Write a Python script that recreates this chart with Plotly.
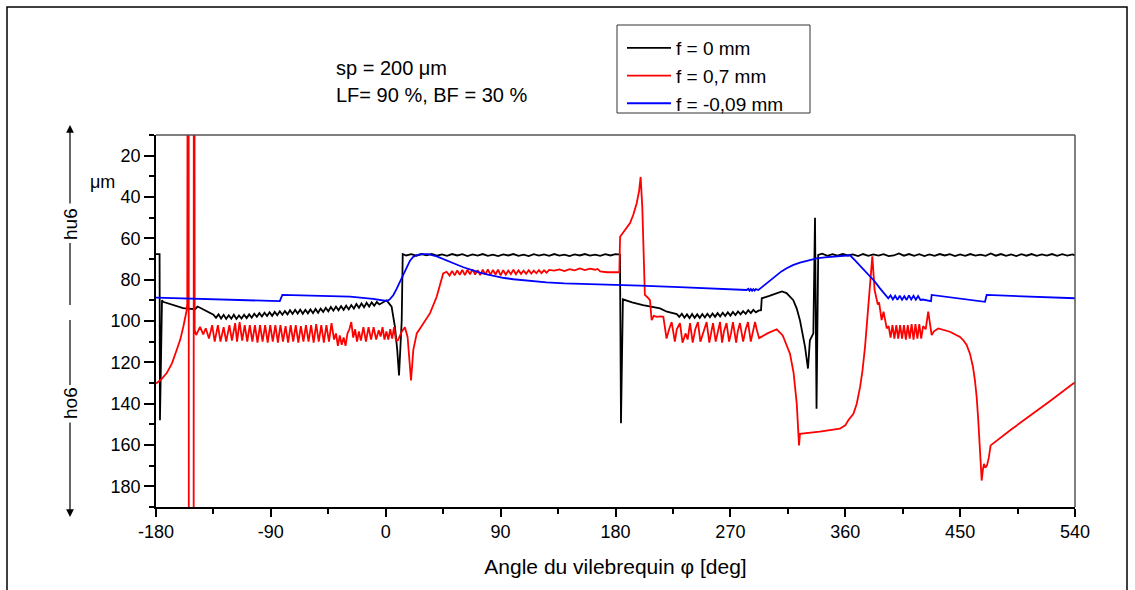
import plotly.graph_objects as go

# ---------------- data ----------------
x_tickvals = [-180, -90, 0, 90, 180, 270, 360, 450, 540]
x_ticktext = ["-180", "-90", "0", "90", "180", "270", "360", "450", "540"]
x_minor = [-135, -45, 45, 135, 225, 315, 405, 495]
y_tickvals = [20, 40, 60, 80, 100, 120, 140, 160, 180]
y_ticktext = ["20", "40", "60", "80", "100", "120", "140", "160", "180"]
y_minor = [10, 30, 50, 70, 90, 110, 130, 150, 170, 190]

series_names = ["f = 0 mm", "f = 0,7 mm", "f = -0,09 mm"]

black_pts = [
    (-180, 67.6), (-177.2, 67.6), (-176.9, 148), (-175.3, 90), (-174.5, 90.7), (-166, 92.5),
    (-158.8, 93.8), (-149.4, 94.3), (-147.5, 93), (-145.5, 93.6), (-140, 95.5), (-135, 97),
    (-133, 98.5), (-131, 96.8), (-129, 98.8), (-127, 97), (-125, 99), (-123, 97.2), (-121, 98.9),
    (-119, 97), (-117, 99), (-115, 97.3), (-113, 98.8), (-111, 97), (-109, 98.6), (-107, 96.8),
    (-105, 98.4), (-103, 96.5), (-101, 98), (-99, 96.2), (-97, 97.8), (-95, 96), (-93, 97.6),
    (-91, 95.8), (-89, 97.5), (-87, 95.6), (-85, 97.2), (-83, 95.3), (-81, 97), (-79, 95.2),
    (-77, 96.8), (-75, 94.8), (-73, 96.6), (-71, 94.6), (-69, 96.4), (-67, 94.5), (-65, 96.5),
    (-63, 94.6), (-61, 96.3), (-59, 94.4), (-57, 96.2), (-55, 94.2), (-53, 96), (-51, 94),
    (-49, 95.6), (-47, 93.6), (-45, 95.3), (-43, 93.2), (-41, 95), (-39, 93), (-37, 94.8),
    (-35, 92.8), (-33, 94.6), (-31, 92.6), (-29, 94.4), (-27, 92.3), (-25, 94), (-23, 91.8),
    (-21, 93.6), (-19, 91.5), (-17, 93.4), (-15, 91.2), (-13, 93), (-11, 91), (-9, 92.6),
    (-7, 90.8), (-5, 92), (-2, 90.8), (0.7, 90), (4.6, 93.1), (7.2, 102.8), (9, 114),
    (10.4, 126.3), (12.5, 100), (13.3, 67.6),
    (16, 68.3), (20, 67.7), (24, 68.4), (28, 67.6), (32, 68.2), (36, 67.5), (40, 68.4), (44, 67.8),
    (48, 68.5), (52, 67.6), (56, 68.3), (60, 67.7), (64, 68.6), (68, 67.8), (72, 68.4), (76, 67.6),
    (80, 68.5), (84, 67.9), (88, 68.6), (92, 67.8), (96, 68.3), (100, 67.6), (104, 68.5),
    (108, 67.9), (112, 68.6), (116, 67.7), (120, 68.4), (124, 67.8), (128, 68.5), (132, 67.6),
    (136, 68.4), (140, 67.9), (144, 68.6), (148, 67.8), (152, 68.3), (156, 67.6), (160, 68.4),
    (164, 67.9), (168, 68.5), (172, 67.7), (176, 68.3), (180, 67.6), (183.5, 67.8),
    (184.3, 149.5), (185.8, 89.5), (193, 91), (201.5, 92.3), (214.9, 93.9), (220.3, 95.5),
    (228, 96.7), (230, 98), (232, 96.5), (234, 98.4), (236, 96.8), (238, 98.6), (240, 96.6),
    (242, 98.5), (244, 96.8), (246, 98.5), (248, 96.6), (250, 98.3), (252, 96.5), (254, 98.2),
    (256, 96.4), (258, 98), (260, 96.2), (262, 97.8), (264, 96), (266, 97.6), (268, 95.8),
    (270, 97.4), (272, 95.6), (274, 97.1), (276, 95.4), (278, 96.8), (280, 95.2), (282, 96.5),
    (284, 94.8), (286, 96.2), (288, 94.6), (290, 95.8), (292, 95), (294, 94.8), (294.6, 89),
    (300, 88), (304, 87), (308.9, 85.8), (310.4, 85.7), (314, 86.5), (319.3, 89.9), (322, 94),
    (324.5, 99.6), (328.5, 112.5), (330.8, 123), (332.3, 109.3), (335, 106), (336.3, 50),
    (337.5, 142.5), (338.8, 68),
    (342, 67.4), (346, 68.5), (350, 67.7), (354, 68.4), (358, 67.6), (362, 68.3), (366, 67.8),
    (370, 68.6), (374, 67.6), (378, 68.5), (382, 67.8), (386, 68.4), (390, 67.7), (394, 68.6),
    (398, 68.3), (402, 67.3), (406, 68.4), (410, 67.6), (414, 68.5), (418, 67.7), (422, 68.6),
    (426, 67.8), (430, 68.5), (434, 67.6), (438, 68.3), (442, 67.7), (446, 68.6), (450, 67.8),
    (454, 68.5), (458, 67.6), (462, 68.4), (466, 67.9), (470, 68.5), (474, 67.3), (478, 68.4),
    (482, 67.6), (486, 68.5), (490, 67.8), (494, 68.6), (498, 67.7), (502, 68.4), (506, 67.6),
    (510, 68.5), (514, 67.8), (518, 68.4), (522, 67.6), (526, 68.5), (530, 67.7), (534, 68.4),
    (538, 67.8), (540, 68.2),
]

red_pts = [
    (-180, 130.3), (-176, 128.3), (-171.6, 125.2), (-167.5, 120.5), (-163.8, 114), (-161, 109),
    (-158.6, 102.8), (-157, 98.5), (-155.9, 94.7), (-155.5, 91.2),
    (-154.6, -400), (-154.2, 400), (-150.6, 400), (-150.2, -400), (-149.7, 104.5),
    (-148.5, 106.8), (-145.5, 102.8), (-143, 106.5), (-141, 103.5), (-138.5, 108.5), (-136, 102),
    (-134, 110), (-131.5, 102), (-129.5, 110), (-127, 103), (-125, 110), (-122.5, 102),
    (-120.5, 109.5), (-118, 101), (-116.5, 110), (-114.5, 100.5), (-112.5, 109.5), (-110.5, 102),
    (-108.5, 110), (-106.5, 102), (-104.5, 110), (-102.5, 102), (-100.5, 110.5), (-98.5, 102),
    (-96.5, 110), (-94.5, 102), (-92.5, 110.5), (-90.5, 102), (-88.5, 110), (-86.5, 102),
    (-84.5, 110.5), (-82.5, 102), (-80.5, 110), (-78.5, 102.5), (-76.5, 110.5), (-74.5, 102),
    (-72.5, 110), (-70.5, 102), (-68.5, 110.5), (-66.5, 102.5), (-64.5, 110), (-62.5, 102),
    (-60.5, 110), (-58.5, 102), (-56.5, 110.5), (-54.5, 101.5), (-52.5, 110), (-50.5, 102),
    (-48.5, 110.5), (-46.5, 102), (-44.5, 110), (-42.5, 101), (-40.5, 109), (-39, 106),
    (-37.5, 112), (-36, 107), (-34.5, 111.5), (-33, 108), (-31.5, 112), (-30, 106), (-28.5, 104),
    (-27, 100.5), (-25.5, 108), (-24, 104), (-22.5, 110), (-21, 105), (-19.5, 109.5),
    (-17.5, 103), (-15.5, 110), (-13.5, 103), (-11.5, 109), (-9.5, 103), (-7.5, 109),
    (-5.5, 104.5), (-4, 107.5), (-2.5, 103), (-1, 109), (0.5, 105), (2, 109), (3.5, 104),
    (5, 108.5), (6.5, 103), (8, 109.5), (9.6, 109.3), (12.5, 105.2), (15, 103), (17.1, 107.7),
    (18.6, 122), (19.8, 128.7), (21.6, 114), (24.3, 106), (27, 103.5), (29.4, 101),
    (34.7, 96.2), (39.9, 88.3), (45, 77), (47.7, 76.2),
    (50, 78), (52, 75.8), (54, 77.9), (56, 75.5), (58, 77.6), (60, 75.3), (62, 77.8), (64, 75.2),
    (66, 77.4), (68, 75), (70, 77.5), (72, 75.4), (74, 77.8), (76, 75.2), (78, 77.6), (80, 75),
    (82, 77.7), (84, 75.3), (86, 77.5), (88, 75.1), (90, 77.9), (92, 75.4), (94, 77.6),
    (96, 75.6), (98, 77.3), (100, 75.2), (102, 77.4), (104, 75.5), (106, 77.2), (108, 75.6),
    (110, 77.1), (112, 75.4), (114, 77), (116, 75.6), (118, 76.9), (120, 75.4), (122, 76.8),
    (124, 75.5), (126, 76.6), (128, 75.3), (132, 75.6), (136, 75), (140, 75.8), (144, 74.9),
    (148, 75.5), (152, 74.6), (156, 75.4), (160, 74.7), (164, 75.2), (166, 74.8), (168, 76),
    (173.3, 76.4), (183, 76.4), (183.6, 59.2), (187, 56.5), (191.4, 52.6), (194, 48.5),
    (196.6, 43), (198.5, 37), (199.7, 30.3), (201, 45), (202.5, 75), (203, 87.4), (205, 88.5),
    (207, 89.9), (208.3, 99.6), (210, 97.5), (212.3, 98), (215, 97.8), (217.5, 98), (219, 104),
    (220, 108.5), (222, 104), (224, 100.5), (226.5, 110), (228, 104), (230.5, 101),
    (232.5, 110.5), (235, 106), (236.5, 109), (238.4, 101), (240.5, 110.5), (242.5, 104),
    (244.6, 100.5), (246.5, 110), (249, 105), (251.4, 100.5), (253.5, 110.5), (254.8, 106),
    (256.4, 101), (258.5, 110), (260, 106), (261.9, 100.5), (263.5, 110.5), (265, 105),
    (267, 101), (269, 110), (270.5, 106), (272, 100.5), (274.5, 110.5), (275.8, 105),
    (277.5, 101), (280, 110), (282, 104), (283.8, 100.5), (286, 110), (287.5, 105),
    (289.3, 100.5), (291, 105), (292.5, 108.3), (299, 106), (306.3, 104), (311, 107),
    (316.7, 115.8), (319.5, 125), (322, 140), (323.8, 160.2), (324.5, 154.6), (340, 153.5),
    (355.8, 152.1), (360, 150.5), (362.4, 148), (366.4, 144.9), (369, 140), (371.6, 132),
    (373.5, 124), (375.5, 112.5), (377.5, 98), (379.4, 83.4), (381.2, 68.7), (383, 85),
    (384.6, 89.9), (385.5, 92), (386.5, 91), (388.5, 99.6), (390, 95.5), (392.5, 103.6),
    (394, 102.5), (395.5, 108), (397, 102), (398.5, 108.5), (400, 102), (401.5, 108.5),
    (403, 102), (404.5, 108.5), (406, 102), (407.5, 109), (409, 102), (410.5, 108.5),
    (412, 101.5), (413.5, 109), (415, 101.5), (416.5, 108.5), (418, 101.5), (419.5, 108.5),
    (421, 102.5), (423, 104), (425, 95.5), (427.7, 106.8), (429.5, 105), (432.9, 103.6),
    (442, 105.2), (449.9, 107.7), (452.5, 109.3), (455, 111.5), (457.7, 115.8), (460, 122),
    (461.6, 128.7), (463, 137), (464.2, 148), (465.5, 162), (466.9, 177.2), (467.8, 172),
    (468.7, 169.1), (469.7, 171), (471, 170), (472.5, 166), (473.9, 160.2), (490, 152.5),
    (507.3, 144.8), (520, 139), (538.6, 130.3), (540, 129.8),
]

blue_pts = [
    (-180, 88.7), (-140, 89.3), (-110, 89.9), (-83, 90.4), (-81, 87.4), (-60, 87.7), (-28, 88.2),
    (-10, 89.3), (-2, 89.9), (0.7, 90.3), (3, 89.6), (6, 87.4), (8.5, 84.5), (11.2, 81),
    (13.8, 77), (16.4, 73.7), (19, 70.8), (21.6, 68.9), (25, 68), (29, 67.6), (33.3, 67.6),
    (40, 68.7), (47.7, 70.5), (54, 72.3), (60.8, 74), (67, 75.4), (73.8, 76.6), (80, 77.6),
    (86.9, 78.5), (93, 79.2), (100, 79.8), (112, 80.6), (126, 81.3), (140, 81.8), (152.2, 82.1),
    (165, 82.4), (178.3, 82.6), (199.2, 82.9), (230, 83.6), (260, 84.3), (282.8, 85),
    (284, 84.4), (285, 85.3), (286, 84.5), (287, 85.4), (288, 84.6), (289, 85.3), (290, 84.6),
    (291.9, 85), (295, 83.5), (298.4, 81.8), (302, 79.8), (306.3, 77.7), (310, 76),
    (314.1, 74.5), (319, 73), (324.5, 71.8), (331, 70.6), (337.6, 69.7), (344, 69.2),
    (350.6, 68.9), (357, 68.5), (363.7, 68.2), (367.5, 70.5), (371.6, 73.2), (375.5, 75.8),
    (379.4, 78.2), (383.3, 81), (387.2, 84.2), (390.5, 86.8), (393.7, 89), (395.5, 87.6),
    (397.3, 89.6), (399.1, 87.8), (400.9, 89.8), (402.7, 87.8), (404.5, 89.7), (406.3, 88),
    (408.1, 89.8), (409.9, 87.6), (411.7, 89.6), (413.5, 87.8), (415.3, 89.7), (417.1, 87.9),
    (418.9, 89.8), (420.7, 89.6), (427.2, 90.4), (427.7, 87.4), (449.9, 89.2), (469.5, 90.7),
    (470.8, 87.4), (500, 88.2), (540, 89),
]

# ---------------- layout geometry ----------------
W, H = 1135, 590
ML, MR, MT, MB = 156, 60, 135, 83
PW = W - ML - MR
PH = H - MT - MB
FONT = "Liberation Sans, Arial, sans-serif"


def px(x):
    return (x - ML) / PW


def py(y):
    return (H - MB - y) / PH


fig = go.Figure()
for name, pts, color in [
    (series_names[0], black_pts, "#000000"),
    (series_names[1], red_pts, "#ff0000"),
    (series_names[2], blue_pts, "#0000ff"),
]:
    fig.add_trace(go.Scatter(
        x=[p[0] for p in pts], y=[p[1] for p in pts], mode="lines", name=name,
        line=dict(color=color, width=1.8),
    ))

axis_common = dict(
    showgrid=False, zeroline=False, showline=True, linecolor="black", linewidth=1.5,
    ticks="outside", tickcolor="black", tickwidth=1.5,
    tickfont=dict(family=FONT, size=18, color="black"),
)

fig.update_xaxes(
    range=[-180, 540], tickmode="array", tickvals=x_tickvals, ticktext=x_ticktext,
    ticklen=8,
    minor=dict(tickmode="array", tickvals=x_minor, ticks="outside", ticklen=5,
               tickcolor="black", tickwidth=1.5),
    title=dict(text="Angle du vilebrequin φ [deg]", font=dict(family=FONT, size=21, color="black"),
               standoff=18),
    **axis_common,
)
fig.update_yaxes(
    range=[190, 10], tickmode="array", tickvals=y_tickvals, ticktext=y_ticktext,
    ticklen=10,
    minor=dict(tickmode="array", tickvals=y_minor, ticks="outside", ticklen=5,
               tickcolor="black", tickwidth=1.5),
    **axis_common,
)

shapes = [
    # outer frame
    dict(type="rect", xref="paper", yref="paper", x0=px(7), x1=px(1127), y0=py(640), y1=py(7),
         line=dict(color="black", width=1.5), fillcolor="rgba(0,0,0,0)", layer="below"),
    # top / right frame of the plot
    dict(type="line", xref="paper", yref="paper", x0=0, x1=1, y0=1, y1=1,
         line=dict(color="#555555", width=1.5)),
    dict(type="line", xref="paper", yref="paper", x0=1, x1=1, y0=0, y1=1,
         line=dict(color="#555555", width=1.5)),
    # legend box
    dict(type="rect", xref="paper", yref="paper", x0=px(617), x1=px(810), y0=py(113), y1=py(25),
         line=dict(color="#333333", width=1), fillcolor="white", layer="below"),
    # hu6 / ho6 guide lines
    dict(type="line", xref="paper", yref="paper", x0=px(70), x1=px(70), y0=py(243), y1=py(305),
         line=dict(color="black", width=1.2)),
    dict(type="line", xref="paper", yref="paper", x0=px(70), x1=px(70), y0=py(320), y1=py(385),
         line=dict(color="black", width=1.2)),
]

annotations = [
    dict(xref="paper", yref="paper", x=px(70), y=py(125), ax=0, ay=80, text="", showarrow=True,
         arrowhead=2, arrowsize=1.3, arrowwidth=1.2, arrowcolor="black"),
    dict(xref="paper", yref="paper", x=px(70), y=py(517), ax=0, ay=-96, text="", showarrow=True,
         arrowhead=2, arrowsize=1.3, arrowwidth=1.2, arrowcolor="black"),
    dict(xref="paper", yref="paper", x=px(70), y=py(224), text="hu6", showarrow=False,
         xanchor="center", yanchor="middle",
         textangle=-90, font=dict(family=FONT, size=19, color="black")),
    dict(xref="paper", yref="paper", x=px(70), y=py(403), text="ho6", showarrow=False,
         xanchor="center", yanchor="middle",
         textangle=-90, font=dict(family=FONT, size=19, color="black")),
    dict(xref="paper", yref="paper", x=px(102), y=py(182), text="μm", showarrow=False,
         xanchor="center", yanchor="middle",
         font=dict(family=FONT, size=18, color="black")),
    dict(xref="paper", yref="paper", x=px(334), y=py(68), text="sp = 200 μm", showarrow=False,
         xanchor="left", yanchor="middle", font=dict(family=FONT, size=20, color="black")),
    dict(xref="paper", yref="paper", x=px(334), y=py(95), text="LF= 90 %, BF = 30 %",
         showarrow=False, xanchor="left", yanchor="middle",
         font=dict(family=FONT, size=20, color="black")),
]

fig.update_layout(
    width=W, height=H, autosize=False,
    margin=dict(l=ML, r=MR, t=MT, b=MB, pad=0),
    paper_bgcolor="white", plot_bgcolor="white",
    showlegend=True,
    legend=dict(x=px(622), y=py(29), xanchor="left", yanchor="top",
                bgcolor="rgba(0,0,0,0)", borderwidth=0, itemwidth=44,
                font=dict(family=FONT, size=19, color="black"), tracegroupgap=0),
    shapes=shapes, annotations=annotations,
)

fig.write_html("out.html")
